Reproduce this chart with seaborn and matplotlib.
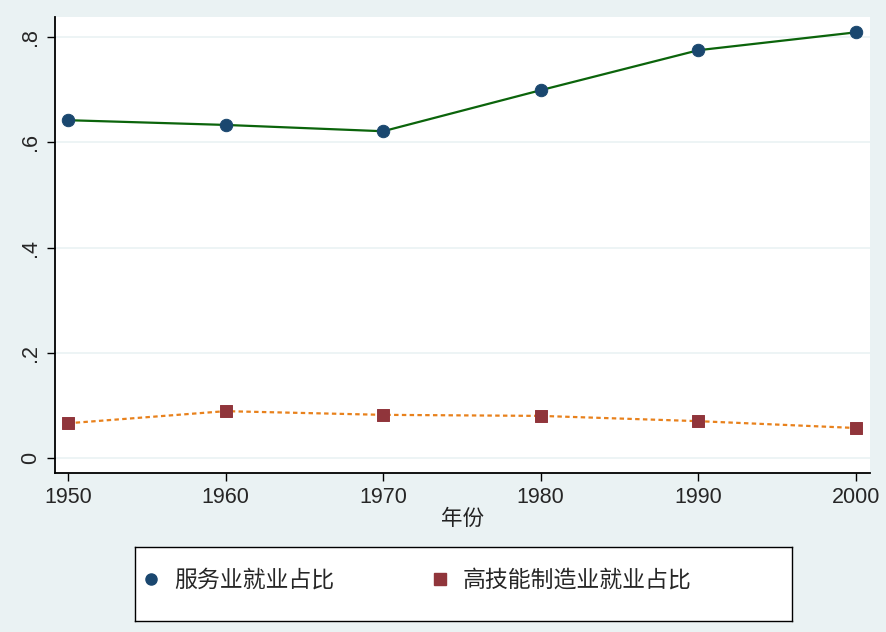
import matplotlib
matplotlib.use("Agg")
import matplotlib.pyplot as plt
import seaborn as sns
import pandas as pd
from matplotlib.lines import Line2D

years = [1950, 1960, 1970, 1980, 1990, 2000]
service_share = [0.642, 0.633, 0.621, 0.699, 0.775, 0.809]
hightech_share = [0.066, 0.089, 0.082, 0.080, 0.070, 0.057]
y_ticks = [0, 0.2, 0.4, 0.6, 0.8]
y_ticklabels = ["0", ".2", ".4", ".6", ".8"]
series_names = ["服务业就业占比", "高技能制造业就业占比"]

sns.set_style("white")
plt.rcParams['font.family'] = ['Noto Sans CJK SC', 'DejaVu Sans']

df = pd.DataFrame({"year": years, "service": service_share, "hightech": hightech_share})

bg = "#eaf2f3"
fig = plt.figure(figsize=(8.87, 6.32), dpi=100, facecolor=bg)
ax = fig.add_axes([0.062, 0.2516, 0.919, 0.7214])
ax.set_facecolor("white")

navy = "#1a476f"
maroon = "#90353b"
green = "#0b640b"
orange = "#e8811c"

ax.set_axisbelow(True)
for t in y_ticks:
    ax.axhline(t, color=bg, lw=1.2, zorder=0)

sns.lineplot(data=df, x="year", y="service", ax=ax, color=green, lw=1.6, zorder=2)
sns.lineplot(data=df, x="year", y="hightech", ax=ax, color=orange, lw=1.6,
             linestyle=(0, (2, 1.5)), zorder=2)
sns.scatterplot(data=df, x="year", y="service", ax=ax, color=navy, s=80,
                marker="o", edgecolor=navy, zorder=3)
sns.scatterplot(data=df, x="year", y="hightech", ax=ax, color=maroon, s=75,
                marker="s", edgecolor=maroon, zorder=3)

tick_font = ['Liberation Sans', 'DejaVu Sans']
ax.set_xlim(1949.18, 2000.9)
ax.set_ylim(-0.0285, 0.838)
ax.set_xticks(years)
ax.set_xticklabels([str(y) for y in years], fontsize=15.5, family=tick_font)
ax.set_yticks(y_ticks)
ax.set_yticklabels(y_ticklabels, fontsize=15.5, rotation=90, va="center", family=tick_font)
ax.tick_params(axis="both", direction="out", length=6, width=1, color="black",
               left=True, bottom=True, pad=4)
ax.set_xlabel("年份", fontsize=15.5, color="#222222", labelpad=0)
ax.set_ylabel("")

for s in ["top", "right"]:
    ax.spines[s].set_visible(False)
for s in ["left", "bottom"]:
    ax.spines[s].set_color("black")
    ax.spines[s].set_linewidth(1.3)

handles = [
    Line2D([], [], marker="o", color=navy, linestyle="none", markersize=8),
    Line2D([], [], marker="s", color=maroon, linestyle="none", markersize=8),
]
lax = fig.add_axes([0.152, 0.0174, 0.741, 0.117])
lax.set_facecolor("white")
lax.set_xticks([]); lax.set_yticks([])
for s in lax.spines.values():
    s.set_color("black"); s.set_linewidth(1)
lax.legend(handles, series_names, loc="upper left", bbox_to_anchor=(-0.013, 0.92),
           ncol=2, frameon=False, fontsize=16.5, handletextpad=0.6,
           columnspacing=4.2, handlelength=0.8, borderaxespad=0.3)

fig.savefig("out.png", dpi=100, facecolor=bg)
